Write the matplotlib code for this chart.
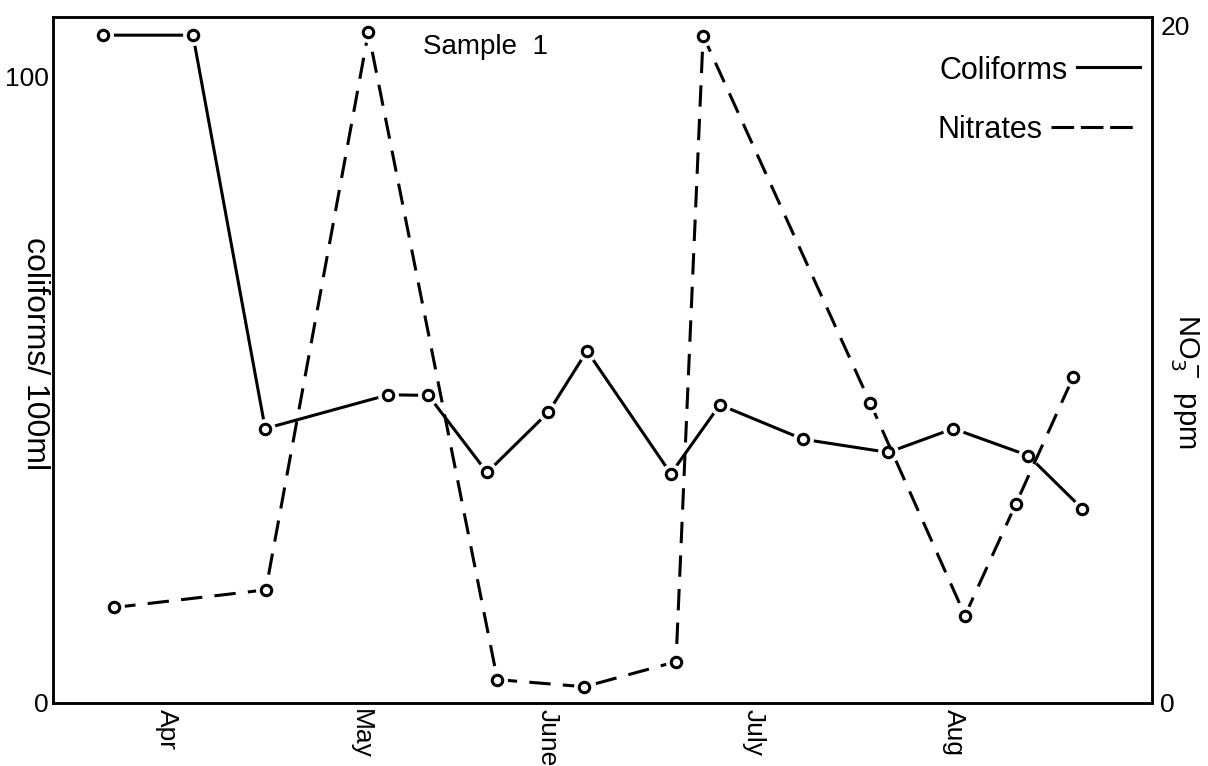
import matplotlib
matplotlib.use("Agg")
import matplotlib.pyplot as plt

plt.rcParams['font.family'] = ['Liberation Sans', 'DejaVu Sans']

# x positions in days from 1 April
month_labels = ["Apr", "May", "June", "July", "Aug"]
month_pos = [0, 30, 59, 91, 122]

coli_x = [-9.9, 4.0, 15.2, 34.3, 40.5, 49.6, 59.1, 65.1, 78.1, 85.7, 98.6, 111.8, 121.9, 133.5, 141.9]
coli_y = [106.6, 106.6, 43.8, 49.2, 49.1, 36.8, 46.4, 56.2, 36.6, 47.6, 42.1, 40.0, 43.8, 39.5, 31.0]

nitr_x = [-8.2, 15.3, 31.2, 51.2, 64.7, 78.9, 83.1, 109.0, 123.7, 131.6, 140.5]
nitr_y = [2.82, 3.34, 19.8, 0.69, 0.48, 1.22, 19.7, 8.86, 2.58, 5.88, 9.63]

left_ticks = [0, 100]
right_ticks = [0, 20]

W, H = 1208, 766
fig = plt.figure(figsize=(W / 100, H / 100), dpi=100)
ax = fig.add_axes([53 / W, (H - 703) / H, (1152 - 53) / W, (703 - 17) / H])
ax2 = ax.twinx()

ax.set_xlim(-17.7, 152.7)
ax.set_ylim(0, 109.5)
ax2.set_ylim(0, 20.25)

LW = 2.2
MS, MEW, HALO = 7.5, 2.2, 14
# coliforms: solid
ax.plot(coli_x, coli_y, '-', color='black', lw=LW, zorder=2)
ax.plot(coli_x, coli_y, 'o', ms=HALO, mfc='white', mec='white', zorder=3)
ax.plot(coli_x, coli_y, 'o', ms=MS, mfc='white', mec='black', mew=MEW, zorder=4)
# nitrates: dashed
ax2.plot(nitr_x, nitr_y, '--', color='black', lw=LW, dashes=(7, 4), zorder=2)
ax2.plot(nitr_x, nitr_y, 'o', ms=HALO, mfc='white', mec='white', zorder=3)
ax2.plot(nitr_x, nitr_y, 'o', ms=MS, mfc='white', mec='black', mew=MEW, zorder=4)

for a in (ax, ax2):
    for s in a.spines.values():
        s.set_linewidth(1.8)
        s.set_color('black')

ax.set_xticks(month_pos)
ax.set_xticklabels(month_labels, rotation=-90, va='top', ha='center', fontsize=19)
ax.tick_params(axis='x', length=0, pad=4)
ax.set_yticks(left_ticks)
ax.set_yticklabels([str(t) for t in left_ticks], fontsize=19)
ax.tick_params(axis='y', length=0, pad=3)
ax2.set_yticks(right_ticks)
ax2.set_yticklabels([str(t) for t in right_ticks], fontsize=19)
ax2.tick_params(axis='y', length=0, pad=6)

ax.text(-0.0164, 0.509, "coliforms/ 100ml", rotation=-90, ha='center', va='center',
        transform=ax.transAxes, fontsize=23)
ax2.text(1.030, 0.469, r"NO$_3^-$ ppm", rotation=-90, ha='center', va='center',
         transform=ax2.transAxes, fontsize=21)

ax2.text(0.337, 0.956, "Sample  1", ha='left', va='center', transform=ax2.transAxes, fontsize=20)

# legend keys
ax2.text(0.9236, 0.927, "Coliforms", ha='right', va='center_baseline', transform=ax2.transAxes, fontsize=22)
ax2.plot([0.9318, 0.989], [0.927, 0.927], '-', color='black', lw=LW, transform=ax2.transAxes)
ax2.text(0.900, 0.840, "Nitrates", ha='right', va='center_baseline', transform=ax2.transAxes, fontsize=22)
ax2.plot([0.908, 0.983], [0.840, 0.840], '--', color='black', lw=LW, dashes=(7.4, 2.2), transform=ax2.transAxes)

fig.savefig("out.png", dpi=100)
